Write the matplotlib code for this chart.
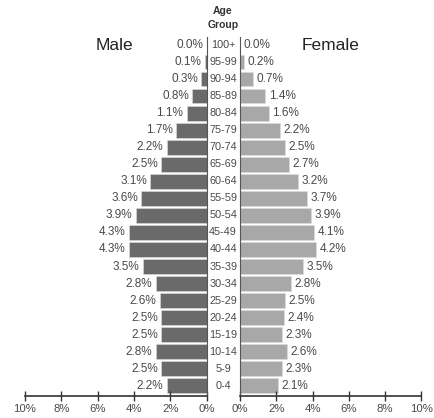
import matplotlib.pyplot as plt
from matplotlib.transforms import blended_transform_factory

plt.rcParams['font.family'] = ['Liberation Sans', 'DejaVu Sans']

grupos = ['0-4', '5-9', '10-14', '15-19', '20-24', '25-29', '30-34', '35-39',
          '40-44', '45-49', '50-54', '55-59', '60-64', '65-69', '70-74',
          '75-79', '80-84', '85-89', '90-94', '95-99', '100+']
homens = [2.2, 2.5, 2.8, 2.5, 2.5, 2.6, 2.8, 3.5, 4.3, 4.3, 3.9, 3.6, 3.1,
          2.5, 2.2, 1.7, 1.1, 0.8, 0.3, 0.1, 0.0]
mulheres = [2.1, 2.3, 2.6, 2.3, 2.4, 2.5, 2.8, 3.5, 4.2, 4.1, 3.9, 3.7, 3.2,
            2.7, 2.5, 2.2, 1.6, 1.4, 0.7, 0.2, 0.0]
ticks = [0, 2, 4, 6, 8, 10]

COR_H = '#6a6a6a'
COR_M = '#a8a8a8'
COR_TXT = '#4a4a4a'

fig = plt.figure(figsize=(4.35, 4.18), dpi=100)
ax1 = fig.add_axes([0.0575, 0.0526, 0.418, 0.86])
ax2 = fig.add_axes([0.552, 0.0526, 0.416, 0.86])

y = list(range(len(grupos)))
ax1.barh(y, homens, height=0.86, color=COR_H, edgecolor='#dddddd', linewidth=0.4)
ax2.barh(y, mulheres, height=0.86, color=COR_M, edgecolor='#dddddd', linewidth=0.4)

ax1.set_xlim(10, 0)
ax2.set_xlim(0, 10)
for ax in (ax1, ax2):
    ax.set_ylim(-0.6, 20.5)
    ax.set_yticks([])
    ax.set_xticks(ticks)
    ax.set_xticklabels([f'{t}%' for t in ticks], fontsize=8.2, color=COR_TXT)
    ax.tick_params(axis='x', direction='inout', length=7, width=1, pad=2, color='#333333')
    ax.spines['top'].set_visible(False)
    ax.spines['bottom'].set_color('#333333')
    ax.spines['bottom'].set_linewidth(1.2)
    ax.set_facecolor('none')

ax1.spines['left'].set_visible(False)
ax1.spines['right'].set_color('#555555')
ax2.spines['right'].set_visible(False)
ax2.spines['left'].set_color('#555555')

for i, v in enumerate(homens):
    ax1.annotate(f'{v:.1f}%', (v, i), xytext=(-2.5, 0), textcoords='offset points',
                 ha='right', va='center', fontsize=8.5, color=COR_TXT)
for i, v in enumerate(mulheres):
    ax2.annotate(f'{v:.1f}%', (v, i), xytext=(2.5, 0), textcoords='offset points',
                 ha='left', va='center', fontsize=8.5, color=COR_TXT)

trans = blended_transform_factory(ax2.transAxes, ax2.transData)
for i, g in enumerate(grupos):
    ax2.text(-0.094, i, g, transform=trans, ha='center', va='center',
             fontsize=7.8, color=COR_TXT, clip_on=False)

fig.text(223 / 435, 1 - 11 / 418, 'Age', ha='center', va='center',
         fontsize=7.5, fontweight='bold', color='#333333')
fig.text(223 / 435, 1 - 25 / 418, 'Group', ha='center', va='center',
         fontsize=7.5, fontweight='bold', color='#333333')
fig.text(114 / 435, 1 - 45 / 418, 'Male', ha='center', va='center',
         fontsize=12.5, color='#222222')
fig.text(331 / 435, 1 - 45 / 418, 'Female', ha='center', va='center',
         fontsize=12.5, color='#222222')

fig.savefig('out.png', dpi=100, facecolor='white')
